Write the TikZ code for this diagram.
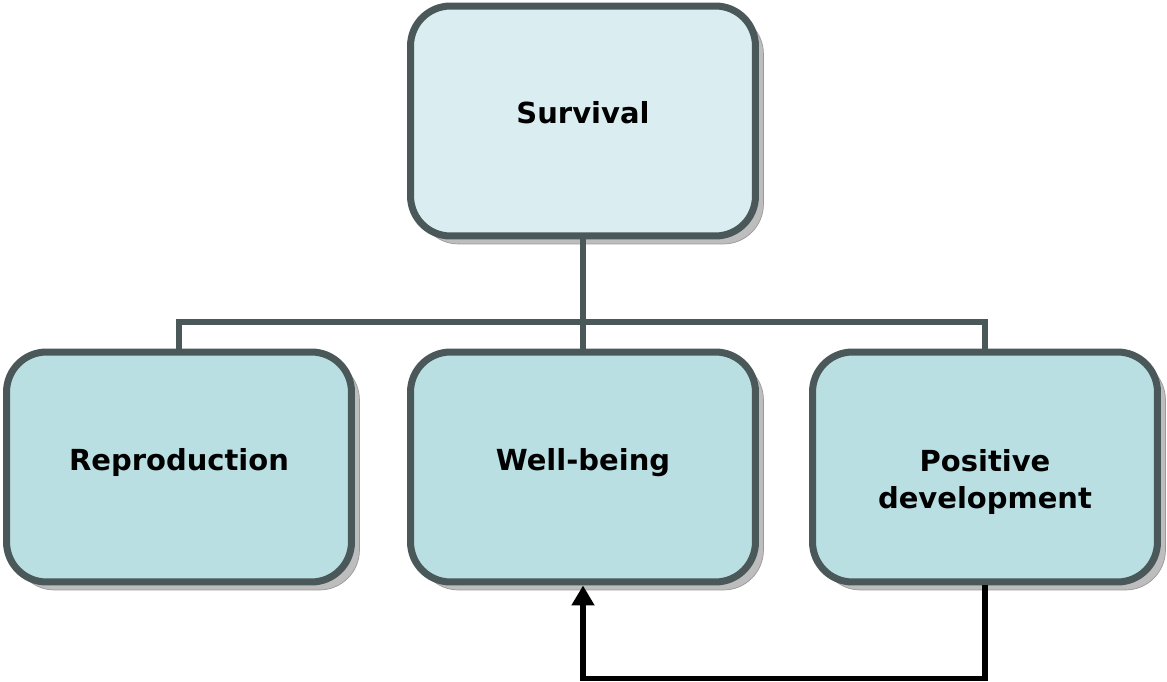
\documentclass[tikz,border=0pt]{standalone}
\usepackage{fontspec}
\setmainfont{DejaVu Sans}
\usepackage{xcolor}
\usepackage{tikz}
\usetikzlibrary{arrows.meta,positioning,calc,shadows}
\definecolor{BoxEdge}{HTML}{4A5859}
\definecolor{TopFill}{HTML}{DAEEF1}
\definecolor{LowFill}{HTML}{B9DFE3}
\definecolor{ShadeGrey}{HTML}{BDBDBD}
% move a label up or down inside its box
\newcommand{\liftlabel}[2]{\raisebox{#1}[\height][\depth]{\begin{tabular}{@{}c@{}}#2\end{tabular}}}

\begin{document}
\begin{tikzpicture}[
  x=0.02cm, y=-0.02cm,
  goal/.style={rectangle,rounded corners=0.8cm,draw=BoxEdge,line width=4pt,
    minimum width=6.9cm,minimum height=4.6cm,align=center,
    font=\fontsize{16.5}{21}\selectfont\bfseries,
    drop shadow={shadow xshift=0.16cm,shadow yshift=-0.16cm,fill=ShadeGrey,opacity=1,draw=gray!80,line width=0.4pt}},
  link/.style={BoxEdge,line width=3.3pt},
  loop/.style={-{Triangle[length=0.4cm,width=0.44cm]},black,line width=3.2pt}
]
\useasboundingbox (0,0) rectangle (1167,682);
\node[goal,fill=TopFill] (surv) at (583,121) {\liftlabel{0.1cm}{Survival}};
\node[goal,fill=LowFill] (repro) at (179,467) {\liftlabel{0.08cm}{Reproduction}};
\node[goal,fill=LowFill] (well) at (583,467) {\liftlabel{0.08cm}{Well-being}};
\node[goal,fill=LowFill] (posdev) at (985,467) {\liftlabel{-0.32cm}{Positive\\development}};
\coordinate (hub) at (583,322);
\draw[link] (surv.south) -- (well.north);
\draw[link] (repro.north) |- (hub) -| (posdev.north);
\draw[loop] (posdev.south) -- ++(0,93) -| (well.south);
\end{tikzpicture}
\end{document}
